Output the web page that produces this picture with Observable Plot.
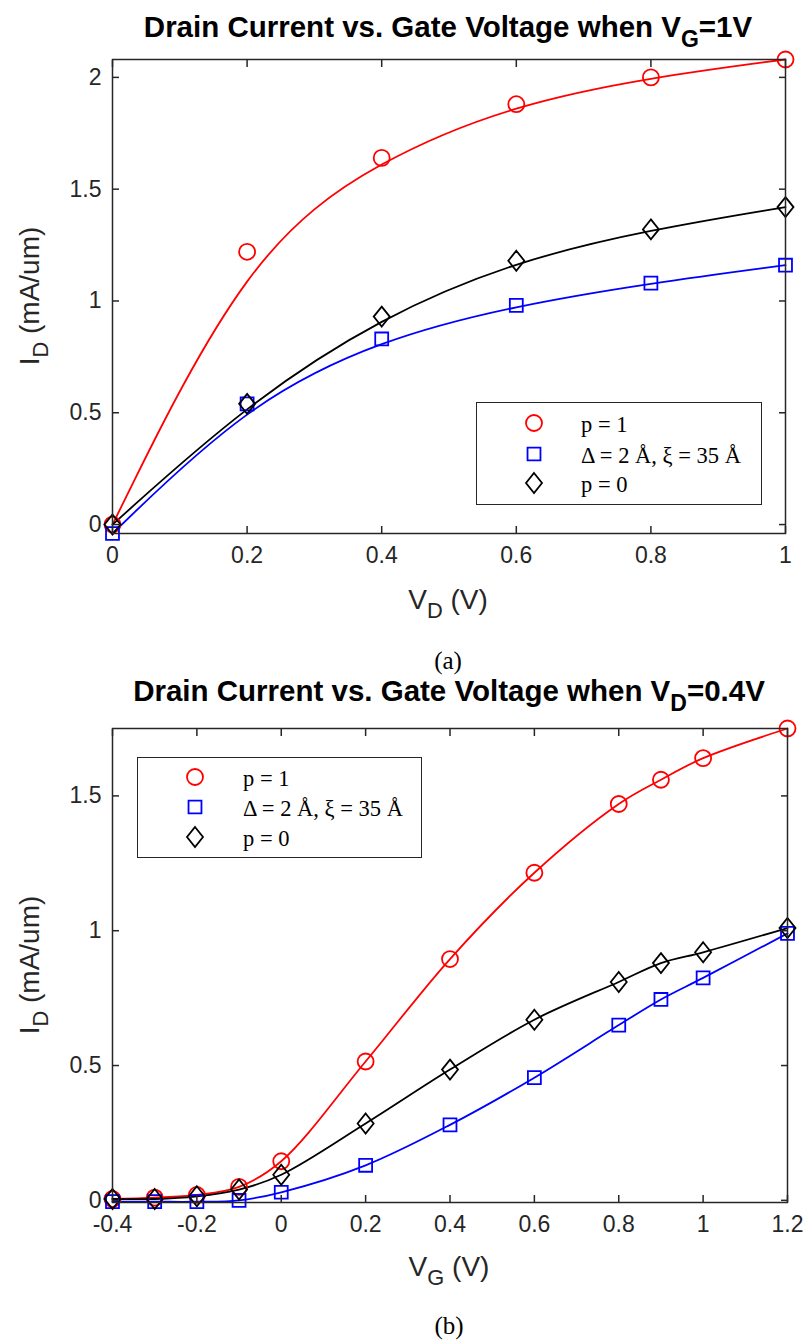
<!DOCTYPE html>
<html><head><meta charset="utf-8">
<script src="https://cdn.jsdelivr.net/npm/d3@7"></script>
<script src="https://cdn.jsdelivr.net/npm/@observablehq/plot@0.6"></script>
<style>
body{margin:0;background:#fff;}
#wrap{position:relative;width:806px;height:1341px;overflow:hidden;font-family:"Liberation Sans",Arial,sans-serif;color:#262626;background:#fff}
.plot{position:absolute;left:0;}
.lbl{position:absolute;transform:translate(-50%,-50%);white-space:nowrap;z-index:2;line-height:1}
.title{font-weight:bold;font-size:29.5px;color:#000}
.axl{font-size:28px;color:#262626}
.cap{font-family:"Liberation Serif","Times New Roman",serif;font-size:25px;color:#000}
.sub{font-size:0.78em;position:relative;top:0.42em}
.vert{transform:translate(-50%,-50%) rotate(-90deg)}
.legend{position:absolute;border:1.5px solid #262626;background:#fff;z-index:2;box-sizing:border-box}
.lt{position:absolute;font-family:"Liberation Serif","Times New Roman",serif;font-size:22.5px;color:#000;white-space:nowrap;transform:translateY(-50%);line-height:1}
.lm{position:absolute;transform:translate(-50%,-50%)}
</style></head>
<body>
<div id="wrap"></div>
<script>
// ---- data (a): I_D vs V_D at V_G = 1 V ----
const vdA = [0, 0.2, 0.4, 0.6, 0.8, 1.0];
const idA_p1 = [0.00, 1.22, 1.64, 1.88, 2.00, 2.08];
const idA_rough = [-0.04, 0.54, 0.83, 0.98, 1.08, 1.16];
const idA_p0 = [0.00, 0.54, 0.93, 1.18, 1.32, 1.42];
// ---- data (b): I_D vs V_G at V_D = 0.4 V ----
const vgB = [-0.4, -0.3, -0.2, -0.1, 0, 0.2, 0.4, 0.6, 0.8, 0.9, 1.0, 1.2];
const idB_p1 = [0.005, 0.01, 0.02, 0.05, 0.145, 0.515, 0.895, 1.215, 1.47, 1.56, 1.64, 1.75];
const idB_rough = [-0.005, -0.005, -0.005, 0.0, 0.03, 0.13, 0.28, 0.455, 0.65, 0.745, 0.825, 0.99];
const idB_p0 = [0.005, 0.005, 0.015, 0.04, 0.095, 0.285, 0.485, 0.67, 0.81, 0.88, 0.92, 1.01];
// ---- labels / ticks ----
const seriesNames = ["p = 1", "Δ = 2 Å, ξ = 35 Å", "p = 0"];
const seriesColors = ["#ff0000", "#0000ff", "#000000"];
const xTicksA = [0, 0.2, 0.4, 0.6, 0.8, 1];
const yTicksA = [0, 0.5, 1, 1.5, 2];
const xTicksB = [-0.4, -0.2, 0, 0.2, 0.4, 0.6, 0.8, 1, 1.2];
const yTicksB = [0, 0.5, 1, 1.5];
const titleA = 'Drain Current vs. Gate Voltage when V<span class="sub">G</span>=1V';
const titleB = 'Drain Current vs. Gate Voltage when V<span class="sub">D</span>=0.4V';
const xLabelA = 'V<span class="sub">D</span> (V)';
const xLabelB = 'V<span class="sub">G</span> (V)';
const yLabel = 'I<span class="sub">D</span> (mA/um)';

const diamondSym = {draw(ctx, size){ const r = Math.sqrt(size/Math.PI); const h = r*1.25, w = r*1.0; ctx.moveTo(0,-h); ctx.lineTo(w,0); ctx.lineTo(0,h); ctx.lineTo(-w,0); ctx.closePath(); }};
const symbols = ["circle", "square", diamondSym];
const rs = [8, 7.3, 8];
const fmt = d => String(Math.round(d*10)/10);

function rows(xs, ys){ return xs.map((x,i)=>({x, y: ys[i]})); }

function chart({xs, series, xDomain, yDomain, xTicks, yTicks, height, mt, mb, ml, mr, curve}){
  const marks = [];
  series.forEach((ys, k) => {
    marks.push(Plot.line(rows(xs, ys), {x:"x", y:"y", stroke: seriesColors[k], strokeWidth: 1.8, curve}));
  });
  series.forEach((ys, k) => {
    marks.push(Plot.dot(rows(xs, ys), {x:"x", y:"y", symbol: symbols[k], r: rs[k], stroke: seriesColors[k], strokeWidth: 1.8, fill: "none"}));
  });
  const ax = {stroke:"#262626", strokeWidth:1.5, label:null};
  marks.push(
    Plot.axisX(xTicks, {tickSize:0, tickPadding:13, tickFormat: fmt, fontSize: 23, fill:"#262626", label:null}),
    Plot.axisX(xTicks, {...ax, tickSize:-7, tickFormat: () => ""}),
    Plot.axisX(xTicks, {...ax, anchor:"top", tickSize:-7, tickFormat: () => ""}),
    Plot.axisY(yTicks, {tickSize:0, tickPadding:11, tickFormat: fmt, fontSize: 23, fill:"#262626", label:null}),
    Plot.axisY(yTicks, {...ax, tickSize:-7, tickFormat: () => ""}),
    Plot.axisY(yTicks, {...ax, anchor:"right", tickSize:-7, tickFormat: () => ""}),
    Plot.frame({stroke:"#262626", strokeWidth:1.5})
  );
  return Plot.plot({
    width: 806, height, marginTop: mt, marginBottom: mb, marginLeft: ml, marginRight: mr,
    x: {domain: xDomain}, y: {domain: yDomain},
    style: {fontFamily: '"Liberation Sans", Arial, sans-serif', fontSize: "23px", color: "#262626", background: "transparent", overflow: "visible"},
    marks
  });
}

const wrap = document.getElementById("wrap");
function place(el, top){ el.classList.add("plot"); el.style.top = top + "px"; wrap.appendChild(el); }

place(chart({xs: vdA, series: [idA_p1, idA_rough, idA_p0], xDomain:[0,1], yDomain:[-0.04, 2.08],
  xTicks: xTicksA, yTicks: yTicksA, height: 600, mt: 59, mb: 67, ml: 112, mr: 21, curve: "basis"}), 0);
place(chart({xs: vgB, series: [idB_p1, idB_rough, idB_p0], xDomain:[-0.4,1.2], yDomain:[-0.008, 1.75],
  xTicks: xTicksB, yTicks: yTicksB, height: 580, mt: 48, mb: 58, ml: 112, mr: 19, curve: "catmull-rom"}), 680);

function lbl(html, x, y, cls){ const d = document.createElement("div"); d.className = "lbl " + cls; d.innerHTML = html; d.style.left = x+"px"; d.style.top = y+"px"; wrap.appendChild(d); return d; }
lbl(titleA, 448, 27, "title");
lbl(xLabelA, 448, 600, "axl");
lbl(yLabel, 30, 296, "axl vert");
lbl("(a)", 448, 660, "cap");
lbl(titleB, 449, 691, "title");
lbl(xLabelB, 449, 1267, "axl");
lbl(yLabel, 30, 965, "axl vert");
lbl("(b)", 449, 1325, "cap");

function markerSvg(k){
  const ns = "http://www.w3.org/2000/svg";
  const s = document.createElementNS(ns, "svg"); s.setAttribute("width", 24); s.setAttribute("height", 26);
  const p = document.createElementNS(ns, "path");
  const path = d3.path(); const size = Math.PI*rs[k]*rs[k];
  if (k === 0) d3.symbolCircle.draw(path, size); else if (k === 1) d3.symbolSquare.draw(path, size); else diamondSym.draw(path, size);
  p.setAttribute("d", path.toString()); p.setAttribute("transform", "translate(12,13)");
  p.setAttribute("fill", "none"); p.setAttribute("stroke", seriesColors[k]); p.setAttribute("stroke-width", 1.8);
  s.appendChild(p); return s;
}
function legend(left, top, width, height, mx, tx, rowY){
  const box = document.createElement("div"); box.className = "legend";
  Object.assign(box.style, {left: left+"px", top: top+"px", width: width+"px", height: height+"px"});
  wrap.appendChild(box);
  seriesNames.forEach((name, k) => {
    const m = document.createElement("div"); m.className = "lm"; m.style.left = (mx-left)+"px"; m.style.top = (rowY[k]-top)+"px";
    m.appendChild(markerSvg(k)); box.appendChild(m);
    const t = document.createElement("div"); t.className = "lt"; t.textContent = name; t.style.left = (tx-left)+"px"; t.style.top = (rowY[k]-top)+"px";
    box.appendChild(t);
  });
}
legend(476, 402, 286, 103, 533, 580, [424, 455, 484]);
legend(137, 757, 285, 101, 194, 242, [778, 808, 838]);
</script>
</body></html>
